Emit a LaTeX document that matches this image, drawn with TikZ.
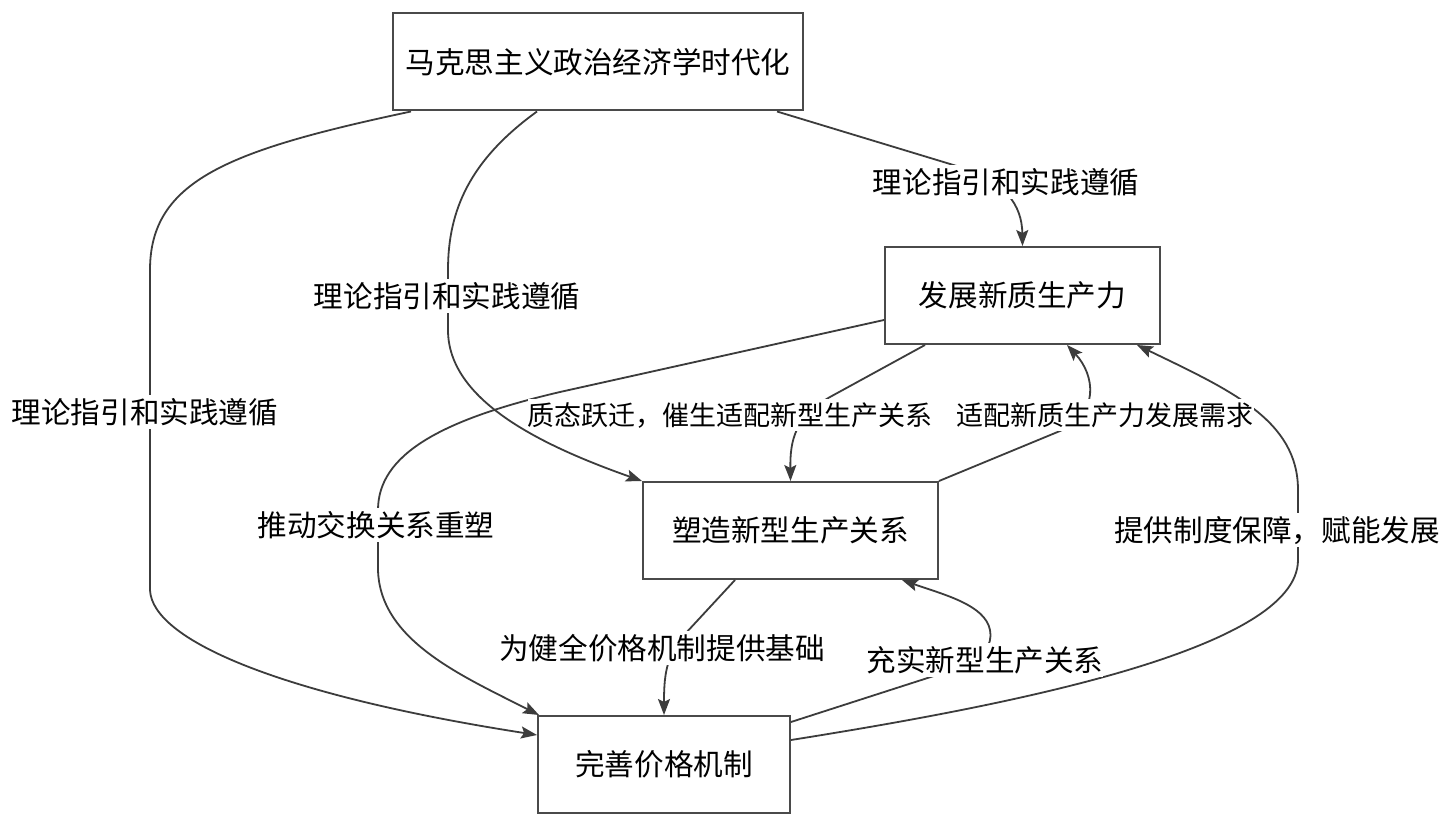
\documentclass[tikz,border=0pt]{standalone}
\usepackage{fontspec}
\setmainfont{Noto Sans CJK SC}
\usetikzlibrary{arrows.meta,calc}
\definecolor{edgec}{HTML}{3C3C3C}
\definecolor{boxc}{HTML}{4A4A4A}
\begin{document}
\begin{tikzpicture}[x=1pt,y=-1pt,
  box/.style={draw=boxc,line width=2pt,minimum height=97pt,inner sep=0pt,font=\fontsize{29.6}{36}\selectfont,text height=24.5pt,text depth=2.1pt},
  lab/.style={fill=white,inner xsep=0pt,inner ysep=4pt,font=\fontsize{29.6}{36}\selectfont,text height=24.5pt,text depth=2.1pt},
  labs/.style={lab,font=\fontsize{27}{33}\selectfont,text height=22.4pt,text depth=1.9pt},
  conn/.style={draw=edgec,line width=1.8pt,-{Stealth[length=16pt,width=12pt,inset=3pt]}}
]
\fill[white] (0,0) rectangle (1441,837);
\useasboundingbox (0,0) rectangle (1441,837);

\node[box,minimum width=410pt] (A) at (598,62) {马克思主义政治经济学时代化};
\node[box,minimum width=275pt] (B) at (1022.5,295.5) {发展新质生产力};
\node[box,minimum width=295pt] (C) at (790.5,530.5) {塑造新型生产关系};
\node[box,minimum width=252pt] (D) at (664,764.5) {完善价格机制};

\draw[conn] ([xshift=179pt]A.south) -- (960,167) .. controls (1005,181) and (1022,205) .. (B.north);
\draw[conn] ([xshift=-61pt]A.south) .. controls (470,160) and (448,210) .. (448,270) -- (448,330) .. controls (448,400) and (540,445) .. (C.north west);
\draw[conn] ([xshift=-187pt]A.south) .. controls (230,150) and (150,180) .. (150,270) -- (150,590) .. controls (152,640) and (280,695) .. ([yshift=29.5pt]D.west);
\draw[conn] ([xshift=-97.5pt]B.south) -- (830,397) .. controls (795,417) and (790,440) .. (C.north);
\draw[conn] (C.north east) -- (1060,431) .. controls (1100,414) and (1095,375) .. ([xshift=44.5pt]B.south);
\draw[conn] ([yshift=-24.5pt]B.west) -- (560,392) .. controls (440,420) and (378,455) .. (378,510) -- (378,570) .. controls (380,640) and (460,675) .. ([xshift=2pt]D.north west);
\draw[conn] ([xshift=-55.5pt]C.south) -- (685,634) .. controls (665,655) and (664,680) .. (D.north);
\draw[conn] ([yshift=42.5pt]D.east) -- (940,674) .. controls (985,659) and (993,645) .. (990,630) .. controls (985,605) and (945,595) .. ([xshift=111.5pt]C.south);
\draw[conn] ([yshift=24.5pt]D.east) .. controls (1005,706) and (1298,650) .. (1298,560) -- (1298,490) .. controls (1298,420) and (1230,390) .. ([xshift=114.5pt]B.south);

\node[lab] (l1) at (1006,182) {理论指引和实践遵循};
\node[lab] (l2) at (447,296) {理论指引和实践遵循};
\node[lab] (l3) at (145,412) {理论指引和实践遵循};
\node[labs] (l4) at (730,415) {质态跃迁，催生适配新型生产关系};
\node[labs] (l5) at (1105,415) {适配新质生产力发展需求};
\node[lab] (l6) at (376,525) {推动交换关系重塑};
\node[lab] (l7) at (662,648) {为健全价格机制提供基础};
\node[lab] (l8) at (985,660) {充实新型生产关系};
\node[lab] (l9) at (1277,530) {提供制度保障，赋能发展};
\end{tikzpicture}
\end{document}
